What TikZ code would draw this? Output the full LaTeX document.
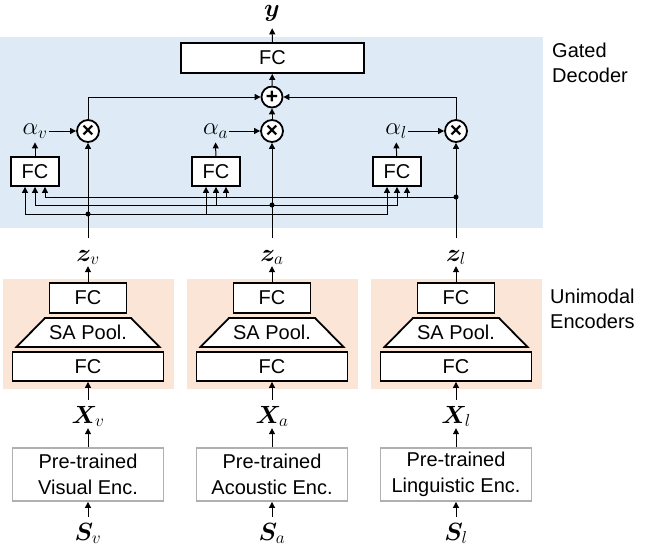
\documentclass[tikz,border=0pt]{standalone}
\usepackage{fontspec}
\setmainfont{Liberation Sans}
\usepackage{bm}
\usetikzlibrary{arrows.meta,calc}
\definecolor{decbg}{HTML}{DEEBF7}
\definecolor{encbg}{HTML}{FBE5D6}
\definecolor{pregray}{HTML}{B0B0B0}
\tikzset{
  box/.style={draw, line width=1.8pt, fill=white, inner sep=0pt, font=\fontsize{20}{24}\selectfont},
  prebox/.style={draw=pregray, line width=1.8pt, fill=white, minimum width=151pt, minimum height=53pt, align=center, inner sep=0pt, font=\fontsize{20}{26}\selectfont},
  op/.style={circle, draw, line width=1.8pt, fill=white, minimum size=21pt, inner sep=0pt, font=\bfseries\fontsize{21}{21}\selectfont},
  mlab/.style={inner sep=1pt, text height=22pt, text depth=4pt, font=\fontsize{26}{30}\selectfont},
  alab/.style={inner sep=1pt, font=\fontsize{26}{30}\selectfont},
  conn/.style={line width=1pt, -{Triangle[length=6pt,width=6pt]}},
  jdot/.style={circle, fill, inner sep=0pt, minimum size=5pt},
  sidelab/.style={anchor=north west, align=left, inner sep=0pt, font=\fontsize{20}{25}\selectfont},
  trap/.style={draw, line width=1.8pt, fill=white},
}
\begin{document}
\begin{tikzpicture}[x=1pt,y=-1pt]
\useasboundingbox (0,0) rectangle (658,546);
% backgrounds
\fill[decbg] (0,37) rectangle (543,228);
\foreach \cx in {88,272,456} {
  \fill[encbg] ({\cx-85.5},279) rectangle ({\cx+85.5},389);
}
\node[sidelab] (gd) at (552,43) {Gated\\Decoder};
\node[sidelab] (ue) at (550,289) {Unimodal\\Encoders};

% decoder
\node[box, minimum width=183pt, minimum height=30pt] (fcout) at (272.5,58) {FC};
\node[alab, anchor=north] (y) at (272,4) {$\bm{y}$};
\draw[conn, shorten >=6pt] (fcout) -- (y);
\node[op] (plus) at (272,97) {+};
\draw[conn] (plus) -- (fcout);

\foreach \m/\cx/\ax/\fx in {v/88/35/35, a/272/215.5/216, l/456/396/397} {
  \node[op, minimum size=22pt] (t\m) at (\cx,131) {×};
  \node[alab] (al\m) at (\ax,131) {$\alpha_\m$};
  \node[box, minimum width=48pt, minimum height=29pt] (fc\m) at (\fx,171.5) {FC};
  \draw[conn] (al\m) -- (t\m);
  \draw[conn, shorten >=3pt] (fc\m) -- (al\m);
  % encoder column
  \node[mlab, anchor=base] (z\m) at (\cx,261) {$\bm{z}_\m$};
  \node[box, minimum width=77pt, minimum height=30pt] (fctop\m) at (\cx,298) {FC};
  \draw[trap] ({\cx-43},318) -- ({\cx+43},318) -- ({\cx+71.5},347) -- ({\cx-71.5},347) -- cycle;
  \node[inner sep=0pt, font=\fontsize{20}{24}\selectfont] (sa\m) at (\cx,332.5) {SA Pool.};
  \node[box, minimum width=151pt, minimum height=29pt] (fcbot\m) at (\cx,366.5) {FC};
  \node[mlab, anchor=base] (X\m) at (\cx,423) {$\bm{X}_\m$};
  \node[mlab, anchor=base] (S\m) at (\cx,540) {$\bm{S}_\m$};
  \draw[conn] (fctop\m) -- (z\m);
  \draw[conn] (X\m) -- (fcbot\m);
  \draw[conn] (z\m) -- (t\m);
}
\node[prebox] (prev) at (88,474.5) {Pre-trained\\Visual Enc.};
\node[prebox] (prea) at (272,474.5) {Pre-trained\\Acoustic Enc.};
\node[prebox] (prel) at (456,474.5) {Pre-trained\\Linguistic Enc.};
\foreach \m in {v,a,l} {
  \draw[conn] (S\m) -- (pre\m);
  \draw[conn] (pre\m) -- (X\m);
}

% gated sums
\draw[conn] (tv.north) |- (plus.west);
\draw[conn] (tl.north) |- (plus.east);
\draw[conn] (ta) -- (plus);

% wiring of the gate inputs
\coordinate (jv) at (88,214);
\coordinate (ja) at (272,205);
\coordinate (jl) at (456,197);
\foreach \m in {v,a,l} {
  \draw[conn] (jv) -| ([xshift=-10pt]fc\m.south);
  \draw[conn] (ja) -| (fc\m.south);
  \draw[conn] (jl) -| ([xshift=10pt]fc\m.south);
}
\node[jdot] at (jv) {};
\node[jdot] at (ja) {};
\node[jdot] at (jl) {};
\end{tikzpicture}
\end{document}
